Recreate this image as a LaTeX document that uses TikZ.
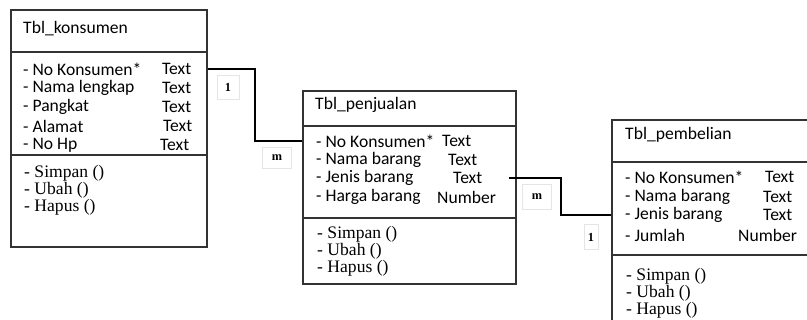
\documentclass[tikz,border=0pt]{standalone}
\usepackage{fontspec}
\setmainfont{Liberation Serif}
\newfontfamily\calibri{Carlito}
\usetikzlibrary{fit,calc}

\tikzset{
	tblbox/.style={draw=black!80, line width=0.9pt, inner sep=0pt},
	divider/.style={draw=black!80, line width=0.9pt},
	attr/.style={anchor=west, inner sep=0pt, font=\calibri\fontsize{15}{16}\selectfont},
	meth/.style={anchor=north west, inner sep=0pt, align=left, font=\fontsize{15}{12.9}\selectfont},
	card/.style={draw=black!10, inner sep=0pt, font=\bfseries\fontsize{10.5}{12}\selectfont},
	relation/.style={line width=1.9pt}
}

\begin{document}
\begin{tikzpicture}[x=0.03cm, y=-0.03cm]
		
		\useasboundingbox (0, 0) rectangle (807, 320);
		\clip (0, 0) rectangle (807, 320);
		
		% Tbl_konsumen
		\node [tblbox, fit={(11, 10) (207, 247)}] (kons) {};
		\draw [divider] (kons.west |- 0, 52) -- (kons.east |- 0, 52);
		\draw [divider] (kons.west |- 0, 155) -- (kons.east |- 0, 155);
		\node [attr] (kname) at (23, 29) {Tbl\_konsumen};
		\node [attr] (ka1) at (23, 69) {- No Konsumen*};
		\node [attr] (ka2) at (23, 88) {- Nama lengkap};
		\node [attr] (ka3) at (23, 107) {- Pangkat};
		\node [attr] (ka4) at (23, 126) {- Alamat};
		\node [attr] (ka5) at (23, 145) {- No Hp};
		\node [attr] (kt1) at (162, 69) {Text};
		\node [attr] (kt2) at (162, 88) {Text};
		\node [attr] (kt3) at (162, 107) {Text};
		\node [attr] (kt4) at (163, 126) {Text};
		\node [attr] (kt5) at (160, 145) {Text};
		\node [meth] (kmeth) at (24, 165) {- Simpan ()\\- Ubah ()\\- Hapus ()};
		
		% Tbl_penjualan
		\node [tblbox, fit={(303, 91) (516, 284)}] (penj) {};
		\draw [divider] (penj.west |- 0, 126) -- (penj.east |- 0, 126);
		\draw [divider] (penj.west |- 0, 218) -- (penj.east |- 0, 218);
		\node [attr] (pname) at (315, 105) {Tbl\_penjualan};
		\node [attr] (pa1) at (316, 141) {- No Konsumen*};
		\node [attr] (pa2) at (316, 160) {- Nama barang};
		\node [attr] (pa3) at (316, 178) {- Jenis barang};
		\node [attr] (pa4) at (316, 197) {- Harga barang};
		\node [attr] (pt1) at (442, 141) {Text};
		\node [attr] (pt2) at (448, 160) {Text};
		\node [attr] (pt3) at (453, 178) {Text};
		\node [attr] (pt4) at (437, 197) {Number};
		\node [meth] (pmeth) at (317, 226) {- Simpan ()\\- Ubah ()\\- Hapus ()};
		
		% Tbl_pembelian
		\node [tblbox, fit={(612, 120) (840, 350)}] (pemb) {};
		\draw [divider] (pemb.west |- 0, 162) -- (pemb.east |- 0, 162);
		\draw [divider] (pemb.west |- 0, 255) -- (pemb.east |- 0, 255);
		\node [attr] (bname) at (625, 135) {Tbl\_pembelian};
		\node [attr] (ba1) at (625, 177) {- No Konsumen*};
		\node [attr] (ba2) at (625, 197) {- Nama barang};
		\node [attr] (ba3) at (625, 215) {- Jenis barang};
		\node [attr] (ba4) at (625, 235) {- Jumlah};
		\node [attr] (bt1) at (765, 177) {Text};
		\node [attr] (bt2) at (763, 197) {Text};
		\node [attr] (bt3) at (763, 215) {Text};
		\node [attr] (bt4) at (738, 235) {Number};
		\node [meth] (bmeth) at (626, 268) {- Simpan ()\\- Ubah ()\\- Hapus ()};
		
		% relations
		\coordinate (mid1) at ($(kons.east)!0.5!(penj.west)$);
		\coordinate (mid2) at ($(penj.east)!0.5!(pemb.west)$);
		\coordinate (start2) at ([xshift=-0.24cm]penj.east |- pa3);
		\draw [relation] (kons.east |- ka1) -| (mid1 |- pa1) -- (penj.west |- pa1);
		\draw [relation] (start2) -| ([xshift=-0.09cm]mid2 |- ba3) -- (pemb.west |- ba3);
		
		\node [card, minimum width=0.66cm, minimum height=0.72cm] (c1) at (228, 87) {1};
		\node [card, minimum width=0.87cm, minimum height=0.63cm] (c2) at (277, 158) {m};
		\node [card, minimum width=0.87cm, minimum height=0.75cm] (c3) at (537, 197) {m};
		\node [card, minimum width=0.42cm, minimum height=0.75cm] (c4) at (591, 237) {1};
		
\end{tikzpicture}
\end{document}
